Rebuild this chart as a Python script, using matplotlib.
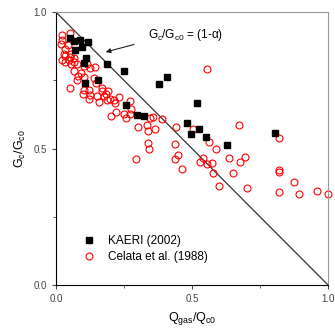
import numpy as np
import matplotlib
matplotlib.use("Agg")
import matplotlib.pyplot as plt
from matplotlib.ticker import MultipleLocator

plt.rcParams['font.family'] = ['Liberation Sans', 'DejaVu Sans']
plt.rcParams['mathtext.fontset'] = 'custom'
plt.rcParams['mathtext.rm'] = 'Liberation Sans'

# KAERI (2002)
kaeri_x = [0.051, 0.067, 0.089, 0.095, 0.069, 0.118, 0.111, 0.102, 0.106, 0.153,
           0.187, 0.251, 0.258, 0.297, 0.323, 0.379, 0.408, 0.480, 0.498, 0.517,
           0.526, 0.552, 0.629, 0.804]
kaeri_y = [0.906, 0.894, 0.899, 0.872, 0.862, 0.889, 0.833, 0.813, 0.739, 0.752,
           0.809, 0.783, 0.661, 0.622, 0.620, 0.735, 0.761, 0.593, 0.554, 0.665,
           0.571, 0.544, 0.513, 0.557]

# Celata et al. (1988)
celata_x = [0.021, 0.023, 0.020, 0.051, 0.032, 0.045, 0.034, 0.034, 0.055, 0.050,
            0.065, 0.067, 0.055, 0.076, 0.066, 0.080, 0.078, 0.093, 0.103, 0.104,
            0.115, 0.126, 0.143, 0.051, 0.099, 0.103, 0.121, 0.120, 0.124, 0.140,
            0.148, 0.151, 0.158, 0.168, 0.170, 0.175, 0.185, 0.188, 0.191, 0.200,
            0.215, 0.217, 0.230, 0.219, 0.203, 0.251, 0.258, 0.274, 0.277, 0.273,
            0.296, 0.301, 0.334, 0.339, 0.338, 0.341, 0.345, 0.356, 0.365, 0.390,
            0.442, 0.437, 0.448, 0.437, 0.463, 0.503, 0.539, 0.530, 0.554, 0.557,
            0.564, 0.572, 0.578, 0.588, 0.601, 0.635, 0.650, 0.674, 0.677, 0.696,
            0.704, 0.820, 0.820, 0.820, 0.820, 0.875, 0.892, 0.958, 1.000,
            0.028, 0.049, 0.024]
celata_y = [0.916, 0.899, 0.884, 0.923, 0.865, 0.878, 0.838, 0.817, 0.848, 0.835,
            0.833, 0.817, 0.809, 0.811, 0.785, 0.767, 0.752, 0.777, 0.762, 0.804,
            0.811, 0.796, 0.798, 0.723, 0.698, 0.716, 0.713, 0.683, 0.695, 0.759,
            0.740, 0.691, 0.670, 0.723, 0.711, 0.691, 0.699, 0.677, 0.711, 0.682,
            0.677, 0.667, 0.688, 0.633, 0.618, 0.628, 0.613, 0.674, 0.646, 0.626,
            0.463, 0.579, 0.588, 0.566, 0.520, 0.499, 0.611, 0.616, 0.571, 0.607,
            0.578, 0.517, 0.477, 0.460, 0.426, 0.572, 0.467, 0.450, 0.445, 0.791,
            0.524, 0.448, 0.412, 0.500, 0.363, 0.466, 0.412, 0.587, 0.449, 0.470,
            0.356, 0.537, 0.423, 0.415, 0.340, 0.376, 0.334, 0.345, 0.334,
            0.845, 0.823, 0.826]

line_x = [0.0, 1.0]
line_y = [1.0, 0.0]

fig = plt.figure(figsize=(3.35, 3.36), dpi=100)
ax = fig.add_axes([0.167, 0.152, 0.812, 0.812])

ax.plot(line_x, line_y, color='#333333', lw=0.9, zorder=1)
ax.plot(celata_x, celata_y, 'o', ms=5, mfc='none', mec='red', mew=0.8,
        clip_on=False, label='Celata et al. (1988)', zorder=2)
ax.plot(kaeri_x, kaeri_y, 's', ms=5, color='black', clip_on=False,
        label='KAERI (2002)', zorder=3)

ax.set_xlim(0, 1)
ax.set_ylim(0, 1)
ax.xaxis.set_major_locator(MultipleLocator(0.5))
ax.yaxis.set_major_locator(MultipleLocator(0.5))
ax.xaxis.set_minor_locator(MultipleLocator(0.25))
ax.yaxis.set_minor_locator(MultipleLocator(0.25))
ax.tick_params(which='both', direction='out', labelsize=7, colors='#444444')
ax.tick_params(which='major', length=3)
ax.tick_params(which='minor', length=2)
ax.xaxis.set_major_formatter(plt.FuncFormatter(lambda v, p: f"{v:.1f}"))
ax.yaxis.set_major_formatter(plt.FuncFormatter(lambda v, p: f"{v:.1f}"))
for s in ['top', 'right']:
    ax.spines[s].set_color('#999999')
for s in ['bottom', 'left']:
    ax.spines[s].set_color('black')

ax.set_xlabel(r'Q$_{\mathrm{gas}}$/Q$_{\mathrm{c0}}$', fontsize=9)
ax.set_ylabel(r'G$_{\mathrm{c}}$/G$_{\mathrm{c0}}$', fontsize=9)

ax.annotate('', xy=(0.173, 0.851), xytext=(0.297, 0.884),
            arrowprops=dict(arrowstyle='-|>', color='#222222', lw=0.8,
                            mutation_scale=7))
ax.text(0.34, 0.915, r'G$_{\mathrm{c}}$/G$_{\mathrm{c0}}$ = (1-' + '\u03b1)',
        fontsize=8.5, va='center', ha='left')

handles, labels = ax.get_legend_handles_labels()
ax.legend(handles[::-1], labels[::-1], loc='lower left',
          bbox_to_anchor=(0.04, 0.04), frameon=False, fontsize=8.5,
          handletextpad=0.6, labelspacing=0.4)

fig.savefig('out.png', dpi=100)
